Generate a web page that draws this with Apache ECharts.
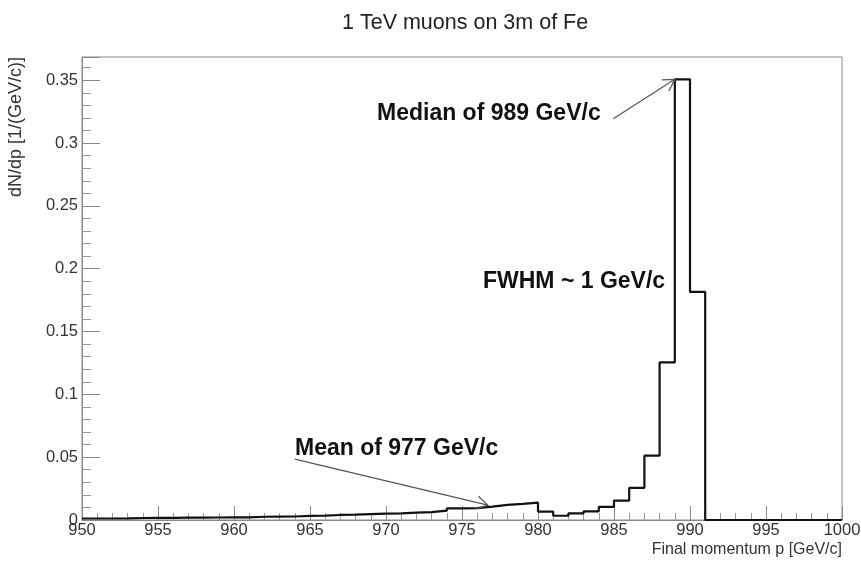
<!DOCTYPE html>
<html>
<head>
<meta charset="utf-8">
<title>1 TeV muons on 3m of Fe</title>
<script src="https://cdn.jsdelivr.net/npm/echarts@6/dist/echarts.min.js"></script>
<style>
  html, body { margin: 0; padding: 0; background: #fff; }
  #chart { width: 861px; height: 563px; }
</style>
</head>
<body>
<div id="chart"></div>
<script>
// Histogram binning: 1 GeV/c bins from 950 to 1000 GeV/c
const binLow = 950;
const binHigh = 1000;
const binWidth = 1;

// dN/dp per bin (1/(GeV/c)), bins 950..999
const binContents = [
  0.0012, 0.0012, 0.0013, 0.0016, 0.0017, 0.0017, 0.0019, 0.0019, 0.0020, 0.0021,
  0.0021, 0.0026, 0.0027, 0.0028, 0.0033, 0.0035, 0.0040, 0.0042, 0.0047, 0.0050,
  0.0053, 0.0058, 0.0062, 0.0074, 0.0092, 0.0094, 0.0106, 0.0120, 0.0128, 0.0138,
  0.0066, 0.0034, 0.0053, 0.0069, 0.0104, 0.0155, 0.0255, 0.0512, 0.1254, 0.3507,
  0.1815, 0, 0, 0, 0, 0, 0, 0, 0, 0
];

// Axis tick values
const xTicks = [950, 955, 960, 965, 970, 975, 980, 985, 990, 995, 1000];
const yTicks = [0, 0.05, 0.1, 0.15, 0.2, 0.25, 0.3, 0.35];
const yMax = 0.3685;

// Annotation arrows: [x tail, y tail, x head, y head] in axis units
const medianArrow = [984.95, 0.3193, 989, 0.3507];
const meanArrow = [964.0, 0.0484, 976.7, 0.0118];

const FONT = '"Liberation Sans", Arial, Helvetica, sans-serif';

// Step outline: each bin's value held from its low edge to the next edge
const stepPoints = binContents.map((v, i) => [binLow + i * binWidth, v]);
stepPoints.push([binHigh, binContents[binContents.length - 1]]);

function renderArrow(params, api) {
  const a = api.coord([api.value(0), api.value(1)]);
  const b = api.coord([api.value(2), api.value(3)]);
  const ang = Math.atan2(b[1] - a[1], b[0] - a[0]);
  const L = 13, w = Math.PI / 6;
  const h1 = [b[0] - L * Math.cos(ang - w), b[1] - L * Math.sin(ang - w)];
  const h2 = [b[0] - L * Math.cos(ang + w), b[1] - L * Math.sin(ang + w)];
  const st = { stroke: '#555', lineWidth: 1.2, fill: null };
  return {
    type: 'group',
    children: [
      { type: 'line', shape: { x1: a[0], y1: a[1], x2: b[0], y2: b[1] }, style: st },
      { type: 'polyline', shape: { points: [h1, b, h2] }, style: st }
    ]
  };
}

const chart = echarts.init(document.getElementById('chart'), null, { renderer: 'canvas' });

const option = {
  backgroundColor: '#ffffff',
  animation: false,
  textStyle: { fontFamily: FONT },
  title: {
    text: '1 TeV muons on 3m of Fe',
    left: 337,
    top: 7,
    textStyle: { fontFamily: FONT, fontSize: 21.5, fontWeight: 'normal', color: '#222' }
  },
  grid: {
    left: 82, right: 19, top: 57, bottom: 43,
    show: true, borderColor: '#8a8a8a', borderWidth: 1,
    containLabel: false,
    outerBoundsMode: 'none'
  },
  xAxis: {
    type: 'value',
    min: binLow, max: binHigh, interval: 5,
    axisLine: { show: true, onZero: false, lineStyle: { color: '#8a8a8a', width: 1 } },
    axisTick: { show: true, inside: true, length: 14, lineStyle: { color: '#8a8a8a' } },
    minorTick: { show: true, splitNumber: 5, length: 7, lineStyle: { color: '#9a9a9a' } },
    splitLine: { show: false },
    axisLabel: {
      margin: 2, fontSize: 16.5, color: '#333', fontFamily: FONT,
      showMinLabel: true, showMaxLabel: true,
      formatter: v => (xTicks.indexOf(v) >= 0 ? String(v) : '')
    },
    name: 'Final momentum p [GeV/c]',
    nameLocation: 'end',
    nameGap: 0,
    nameTextStyle: {
      fontFamily: FONT, fontSize: 16, color: '#333',
      align: 'right', verticalAlign: 'top', padding: [22, 0, 0, 0]
    }
  },
  yAxis: {
    type: 'value',
    min: 0, max: yMax, interval: 0.05,
    axisLine: { show: true, lineStyle: { color: '#8a8a8a', width: 1 } },
    axisTick: { show: true, inside: true, length: 18, lineStyle: { color: '#8a8a8a' } },
    minorTick: { show: true, splitNumber: 5, length: 9, lineStyle: { color: '#9a9a9a' } },
    splitLine: { show: false },
    axisLabel: {
      margin: 4, fontSize: 16.5, color: '#333', fontFamily: FONT,
      showMaxLabel: false,
      formatter: v => {
        const hit = yTicks.find(t => Math.abs(t - v) < 1e-9);
        return hit === undefined ? '' : String(hit);
      }
    }
  },
  graphic: [
    {
      type: 'text', x: 16, y: 57, rotation: Math.PI / 2,
      style: {
        text: 'dN/dp [1/(GeV/c)]', font: '18px ' + FONT, fill: '#333',
        align: 'right', verticalAlign: 'middle'
      }
    },
    {
      type: 'text', x: 377, y: 113.5,
      style: { text: 'Median of 989 GeV/c', font: 'bold 23px ' + FONT, fill: '#111', verticalAlign: 'middle' }
    },
    {
      type: 'text', x: 483, y: 282,
      style: { text: 'FWHM ~ 1 GeV/c', font: 'bold 23px ' + FONT, fill: '#111', verticalAlign: 'middle' }
    },
    {
      type: 'text', x: 295, y: 449,
      style: { text: 'Mean of 977 GeV/c', font: 'bold 23px ' + FONT, fill: '#111', verticalAlign: 'middle' }
    }
  ],
  series: [
    {
      name: 'dN/dp',
      type: 'line',
      step: 'end',
      data: stepPoints,
      symbol: 'none',
      lineStyle: { color: '#111', width: 2.2 },
      clip: true,
      z: 3
    },
    {
      name: 'arrows',
      type: 'custom',
      renderItem: renderArrow,
      data: [medianArrow, meanArrow],
      encode: { x: [0, 2], y: [1, 3] },
      clip: false,
      z: 4
    }
  ]
};

chart.setOption(option);
</script>
</body>
</html>
